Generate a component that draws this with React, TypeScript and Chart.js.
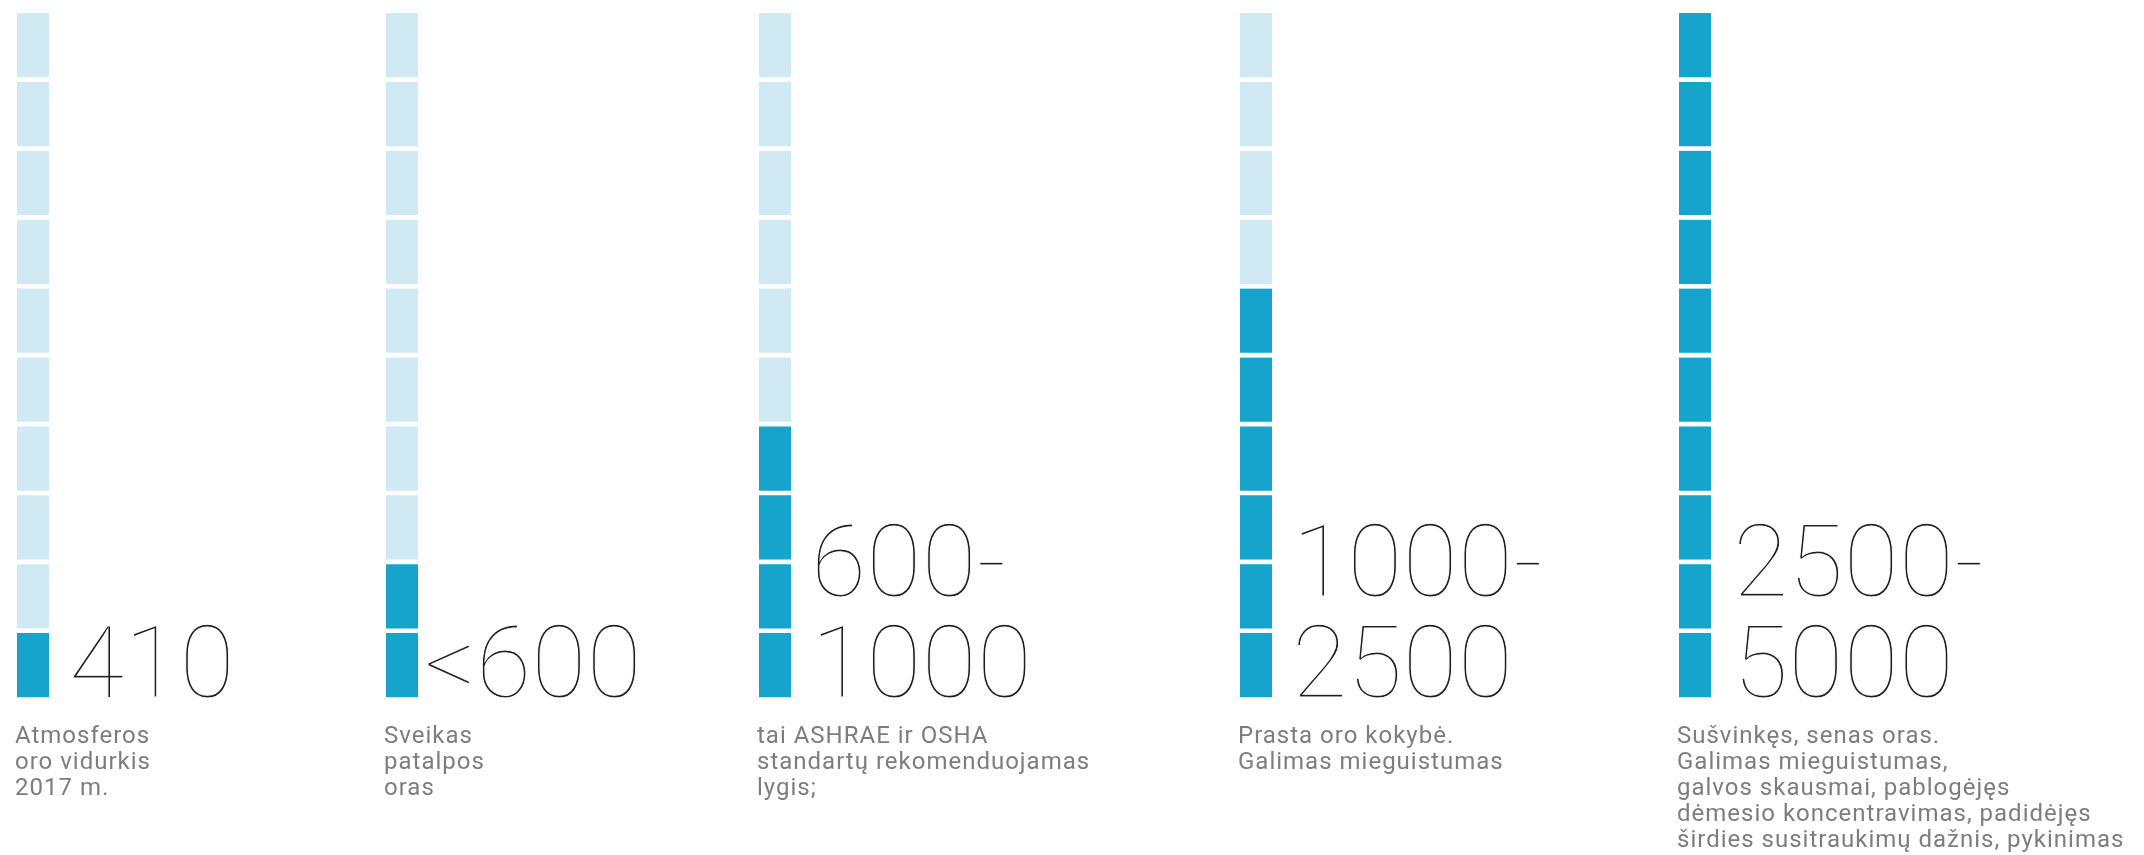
import React, { useEffect, useRef } from "react";
import { Chart, registerables } from "chart.js";

Chart.register(...registerables);

// ---- data ----
const rangeLabels: string[][] = [["410"], ["<600"], ["600-", "1000"], ["1000-", "2500"], ["2500-", "5000"]];
const filledSegments: number[] = [1, 2, 4, 6, 10];
const totalSegments = 10;
const descriptions: string[][] = [
  ["Atmosferos", "oro vidurkis", "2017 m."],
  ["Sveikas", "patalpos", "oras"],
  ["tai ASHRAE ir OSHA", "standartų rekomenduojamas", "lygis;"],
  ["Prasta oro kokybė.", "Galimas mieguistumas"],
  [
    "Sušvinkęs, senas oras.",
    "Galimas mieguistumas,",
    "galvos skausmai, pablogėjęs",
    "dėmesio koncentravimas, padidėjęs",
    "širdies susitraukimų dažnis, pykinimas",
  ],
];

// ---- layout ----
const columnCenters: number[] = [33, 402, 775, 1256, 1695];
const numberOffsets: number[] = [36, 22, 36, 36, 38];
const W = 2144;
const H = 855;
const DARK = "#16a3cc";
const LIGHT = "#cfeaf3";

const labelsPlugin = {
  id: "labelsPlugin",
  afterDraw(chart: any) {
    const ctx = chart.ctx;
    const x = chart.scales.x;
    const y = chart.scales.y;
    const base = y.getPixelForValue(0) - 5;
    ctx.save();
    ctx.textAlign = "left";
    ctx.textBaseline = "alphabetic";
    rangeLabels.forEach((lines, i) => {
      const cx = x.getPixelForValue(columnCenters[i]);
      ctx.font = "100 101px 'Roboto Thin', Roboto";
      (ctx as any).letterSpacing = "0px";
      const n = lines.length;
      lines.forEach((ln, k) => {
        const tx = cx + numberOffsets[i];
        const ty = base - (n - 1 - k) * 101;
        ctx.fillStyle = "#1e1e1e";
        ctx.fillText(ln, tx, ty);
        ctx.strokeStyle = "#ffffff";
        ctx.lineWidth = 1.0;
        ctx.strokeText(ln, tx, ty);
      });
      ctx.font = "400 24px Roboto";
      (ctx as any).letterSpacing = "1px";
      ctx.fillStyle = "#7d7d7d";
      descriptions[i].forEach((ln, k) => {
        ctx.fillText(ln, cx - 18, base + 46 + k * 26);
      });
    });
    ctx.restore();
  },
};

export default function App() {
  const ref = useRef<HTMLCanvasElement>(null);
  useEffect(() => {
    document.body.style.margin = "0";
    const datasets = Array.from({ length: totalSegments }, (_, s) => ({
      label: "seg" + s,
      data: columnCenters.map((c) => ({ x: c, y: 1 })),
      backgroundColor: filledSegments.map((f) => (s < f ? DARK : LIGHT)),
      borderColor: "#ffffff",
      borderWidth: { top: 0, left: 0, right: 0, bottom: 5 },
      borderSkipped: false,
      barThickness: 32,
    }));
    const chart = new Chart(ref.current!, {
      type: "bar",
      data: { datasets },
      options: {
        animation: false,
        responsive: false,
        layout: { padding: { top: 13, bottom: 153, left: 0, right: 0 } },
        plugins: { legend: { display: false }, tooltip: { enabled: false } },
        scales: {
          x: { type: "linear", min: 0, max: W, stacked: true, display: false, offset: false },
          y: { min: 0, max: totalSegments, stacked: true, display: false },
        },
      },
      plugins: [labelsPlugin],
    } as any);
    return () => chart.destroy();
  }, []);
  return (
    <div style={{ width: W, height: H, background: "#fff" }}>
      <canvas ref={ref} width={W} height={H} style={{ width: W, height: H, display: "block" }} />
    </div>
  );
}
